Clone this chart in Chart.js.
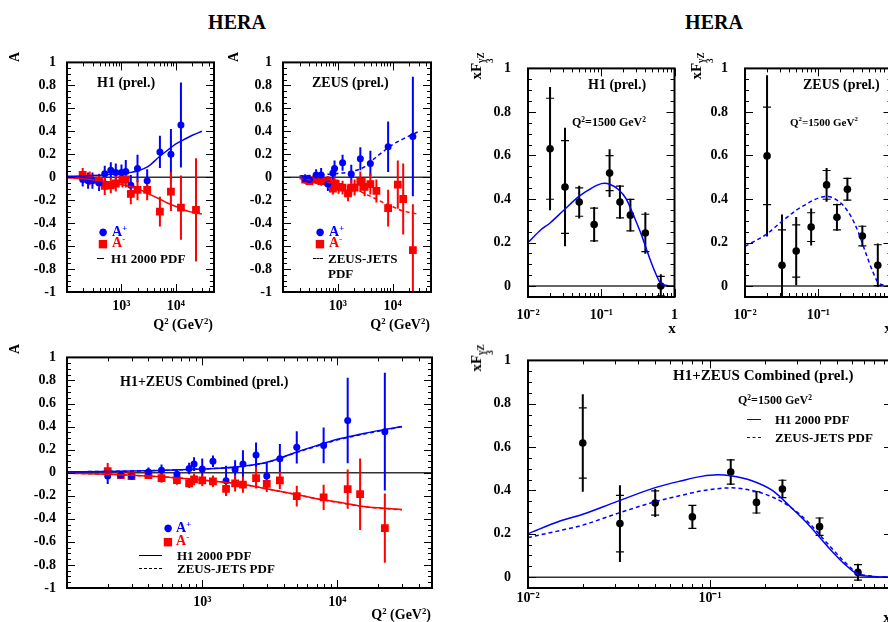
<!DOCTYPE html>
<html>
<head>
<meta charset="utf-8">
<script src="https://cdn.jsdelivr.net/npm/chart.js"></script>
<style>
  html, body { margin: 0; padding: 0; width: 888px; height: 622px; overflow: hidden; background: #fff; }
  body { position: relative; }
  canvas { position: absolute; }
  .t { position: absolute; white-space: nowrap; line-height: 1; font-family: 'Liberation Serif', 'Times New Roman', serif; font-weight: bold; color: #000; }
  .cy { transform: translateY(-50%); }
  .cc { transform: translate(-50%, -50%); }
  .rt { transform: translate(-100%, -50%); }
  .rot { transform: translate(-50%, -50%) rotate(-90deg); }
  .t sup { font-size: 0.62em; vertical-align: 0.6em; line-height: 0; }
  .ss { display: inline-flex; flex-direction: column; font-size: 0.62em; line-height: 0.95; vertical-align: -0.35em; }
  .mk { position: absolute; font-family: 'DejaVu Sans', sans-serif; line-height: 1; transform: translate(-50%, -50%); }
  .ln { position: absolute; height: 0; }
</style>
</head>
<body>
<canvas id="p1"></canvas>
<canvas id="p2"></canvas>
<canvas id="p3"></canvas>
<canvas id="p4"></canvas>
<canvas id="p5"></canvas>
<canvas id="p6"></canvas>

<!-- 标题 -->
<div class="t cc" style="left:237px;top:22px;font-size:20px">HERA</div>
<div class="t cc" style="left:714px;top:22px;font-size:20px">HERA</div>

<!-- H1 A -->
<div class="t rot" style="left:15px;top:57px;font-size:14px">A</div>
<div class="t cy" style="left:97px;top:83px;font-size:14px">H1 (prel.)</div>
<div class="mk" style="left:103px;top:232px;font-size:10px;color:#00f">●</div>
<div class="t cy" style="left:112px;top:232px;font-size:14px;color:#00f">A<sup>+</sup></div>
<div class="mk" style="left:103px;top:243px;font-size:11px;color:#f00">■</div>
<div class="t cy" style="left:112px;top:243px;font-size:14px;color:#f00">A<sup>-</sup></div>
<div class="ln" style="left:97px;top:258px;width:7px;border-top:1.5px solid #000"></div>
<div class="t cy" style="left:111px;top:258px;font-size:13px">H1 2000 PDF</div>
<div class="t rt" style="left:213px;top:325px;font-size:14px">Q<sup>2</sup> (GeV<sup>2</sup>)</div>

<!-- ZEUS A -->
<div class="t rot" style="left:234px;top:57px;font-size:14px">A</div>
<div class="t cy" style="left:312px;top:83px;font-size:14px">ZEUS (prel.)</div>
<div class="mk" style="left:320px;top:232px;font-size:10px;color:#00f">●</div>
<div class="t cy" style="left:329px;top:232px;font-size:14px;color:#00f">A<sup>+</sup></div>
<div class="mk" style="left:320px;top:243px;font-size:11px;color:#f00">■</div>
<div class="t cy" style="left:329px;top:243px;font-size:14px;color:#f00">A<sup>-</sup></div>
<div class="ln" style="left:313px;top:258px;width:10px;border-top:1.5px dashed #000"></div>
<div class="t cy" style="left:328px;top:258px;font-size:13px">ZEUS-JETS</div>
<div class="t cy" style="left:328px;top:273px;font-size:13px">PDF</div>
<div class="t rt" style="left:430px;top:325px;font-size:14px">Q<sup>2</sup> (GeV<sup>2</sup>)</div>

<!-- Combined A -->
<div class="t rot" style="left:15px;top:349px;font-size:14px">A</div>
<div class="t cy" style="left:120px;top:382px;font-size:14px">H1+ZEUS Combined (prel.)</div>
<div class="mk" style="left:168px;top:528px;font-size:10px;color:#00f">●</div>
<div class="t cy" style="left:176px;top:528px;font-size:14px;color:#00f">A<sup>+</sup></div>
<div class="mk" style="left:168px;top:541px;font-size:11px;color:#f00">■</div>
<div class="t cy" style="left:176px;top:541px;font-size:14px;color:#f00">A<sup>-</sup></div>
<div class="ln" style="left:139px;top:555px;width:23px;border-top:1.5px solid #000"></div>
<div class="t cy" style="left:177px;top:555px;font-size:13px">H1 2000 PDF</div>
<div class="ln" style="left:139px;top:568px;width:23px;border-top:1.5px dashed #000"></div>
<div class="t cy" style="left:177px;top:568px;font-size:13px">ZEUS-JETS PDF</div>
<div class="t rt" style="left:431px;top:615px;font-size:14px">Q<sup>2</sup> (GeV<sup>2</sup>)</div>

<!-- H1 xF3 -->
<div class="t rot" style="left:482px;top:66px;font-size:15px">xF<span class="ss"><span>γZ</span><span>3</span></span></div>
<div class="t cy" style="left:588px;top:85px;font-size:14px">H1 (prel.)</div>
<div class="t cy" style="left:572px;top:122px;font-size:12px">Q<sup>2</sup>=1500 GeV<sup>2</sup></div>
<div class="t cc" style="left:672px;top:328px;font-size:15px">x</div>

<!-- ZEUS xF3 -->
<div class="t rot" style="left:702px;top:66px;font-size:15px">xF<span class="ss"><span>γZ</span><span>3</span></span></div>
<div class="t cy" style="left:803px;top:85px;font-size:14px">ZEUS (prel.)</div>
<div class="t cy" style="left:790px;top:122px;font-size:11px">Q<sup>2</sup>=1500 GeV<sup>2</sup></div>
<div class="t cc" style="left:888px;top:328px;font-size:15px">x</div>

<!-- Combined xF3 -->
<div class="t rot" style="left:482px;top:358px;font-size:15px">xF<span class="ss"><span>γZ</span><span>3</span></span></div>
<div class="t cy" style="left:673px;top:375px;font-size:15px">H1+ZEUS Combined (prel.)</div>
<div class="t cy" style="left:738px;top:400px;font-size:12px">Q<sup>2</sup>=1500 GeV<sup>2</sup></div>
<div class="ln" style="left:747px;top:419px;width:14px;border-top:1.5px solid #00f"></div>
<div class="t cy" style="left:775px;top:419px;font-size:13px">H1 2000 PDF</div>
<div class="ln" style="left:747px;top:437px;width:14px;border-top:1.5px dashed #00f"></div>
<div class="t cy" style="left:775px;top:437px;font-size:13px">ZEUS-JETS PDF</div>
<div class="t cc" style="left:887px;top:617px;font-size:15px">x</div>

<script>
    // 数据: 电荷不对称 A± 随 Q2
    var h1Q2Plus = [194, 244, 293, 388, 493, 637, 787, 1000, 1200, 1485, 1970, 2965, 5080, 8090, 12360];
    var h1APlus = [-0.02, -0.03, -0.03, -0.05, 0.03, 0.06, 0.04, 0.04, 0.05, -0.07, 0.075, -0.03, 0.22, 0.20, 0.455];
    var h1APlusErr = [0.06, 0.07, 0.07, 0.07, 0.07, 0.07, 0.08, 0.07, 0.1, 0.09, 0.12, 0.1, 0.14, 0.22, 0.37];
    var h1Q2Minus = [194, 261, 388, 493, 637, 787, 1043, 1200, 1485, 1970, 2965, 5080, 8090, 12360, 23350];
    var h1AMinus = [0.02, -0.01, -0.03, -0.075, -0.07, -0.055, -0.02, -0.02, -0.145, -0.11, -0.11, -0.30, -0.125, -0.265, -0.285];
    var h1AMinusErr = [0.06, 0.06, 0.06, 0.08, 0.07, 0.07, 0.07, 0.07, 0.09, 0.09, 0.09, 0.13, 0.17, 0.28, 0.45];

    var zeusQ2Plus = [253, 303, 402, 496, 658, 813, 871, 1220, 1758, 2572, 3920, 8260, 23350];
    var zeusAPlus = [-0.014, -0.02, 0.02, 0.02, -0.06, 0.036, 0.075, 0.126, 0.028, 0.16, 0.12, 0.266, 0.355];
    var zeusAPlusErr = [0.04, 0.04, 0.05, 0.06, 0.06, 0.06, 0.07, 0.07, 0.08, 0.1, 0.11, 0.22, 0.52];
    var zeusQ2Minus = [253, 303, 402, 496, 658, 813, 871, 1031, 1220, 1530, 1758, 2023, 2572, 3083, 3920, 5050, 8260, 12400, 15550, 23350];
    var zeusAMinus = [-0.02, -0.035, -0.02, -0.035, -0.04, -0.10, -0.055, -0.085, -0.09, -0.14, -0.09, -0.09, -0.04, -0.085, -0.06, -0.12, -0.27, -0.064, -0.19, -0.635];
    var zeusAMinusErr = [0.03, 0.03, 0.04, 0.04, 0.05, 0.05, 0.06, 0.06, 0.06, 0.07, 0.07, 0.07, 0.09, 0.08, 0.09, 0.1, 0.16, 0.21, 0.31, 0.4];

    var combQ2Plus = [200, 250, 300, 400, 500, 650, 800, 870, 1000, 1200, 1500, 1750, 2000, 2500, 3000, 3750, 5000, 7900, 11900, 22400];
    var combAPlus = [-0.028, -0.02, -0.03, 0.005, 0.022, -0.014, 0.036, 0.075, 0.033, 0.10, -0.07, 0.028, 0.075, 0.153, -0.028, 0.12, 0.22, 0.236, 0.453, 0.356];
    var combAPlusErr = [0.07, 0.03, 0.03, 0.04, 0.05, 0.04, 0.05, 0.06, 0.09, 0.05, 0.13, 0.08, 0.12, 0.11, 0.12, 0.13, 0.14, 0.155, 0.37, 0.51];
    var combQ2Minus = [200, 250, 300, 400, 500, 650, 800, 870, 1000, 1200, 1500, 1750, 2000, 2500, 3000, 3750, 5000, 7900, 11900, 14700, 22400];
    var combAMinus = [0.014, -0.02, -0.03, -0.02, -0.047, -0.064, -0.092, -0.058, -0.067, -0.075, -0.14, -0.092, -0.103, -0.047, -0.097, -0.067, -0.203, -0.214, -0.142, -0.186, -0.48];
    var combAMinusErr = [0.07, 0.03, 0.03, 0.03, 0.04, 0.04, 0.04, 0.05, 0.05, 0.05, 0.06, 0.07, 0.07, 0.09, 0.07, 0.075, 0.09, 0.11, 0.17, 0.31, 0.3];

    // 理论曲线 (H1 2000 PDF / ZEUS-JETS PDF)
    var q2Theory = [100, 200, 300, 500, 700, 1000, 1500, 2000, 3000, 5000, 7000, 10000, 15000, 20000, 30000];
    var h1APlusTh = [0.008, 0.011, 0.014, 0.02, 0.026, 0.033, 0.042, 0.056, 0.09, 0.18, 0.235, 0.29, 0.335, 0.365, 0.40];
    var h1AMinusTh = [-0.004, -0.014, -0.022, -0.036, -0.048, -0.064, -0.084, -0.10, -0.14, -0.19, -0.225, -0.255, -0.29, -0.305, -0.32];
    var zeusAPlusTh = [0.008, 0.011, 0.014, 0.02, 0.026, 0.033, 0.042, 0.055, 0.088, 0.176, 0.23, 0.285, 0.33, 0.36, 0.398];
    var zeusAMinusTh = [-0.004, -0.014, -0.022, -0.036, -0.048, -0.064, -0.084, -0.10, -0.14, -0.19, -0.226, -0.257, -0.292, -0.307, -0.322];

    // 数据: xF3 随 x (Q2 = 1500 GeV2)
    var xBins = [0.02, 0.032, 0.05, 0.08, 0.13, 0.18, 0.25, 0.40, 0.65];
    var h1F3 = [0.631, 0.455, 0.386, 0.283, 0.519, 0.386, 0.326, 0.244, 0.0];
    var h1F3Stat = [0.232, 0.213, 0.065, 0.075, 0.08, 0.073, 0.072, 0.086, 0.045];
    var h1F3Tot = [0.283, 0.272, 0.075, 0.08, 0.11, 0.077, 0.075, 0.095, 0.055];
    var zeusF3 = [0.598, 0.096, 0.161, 0.271, 0.465, 0.316, 0.445, 0.230, 0.096];
    var zeusF3Stat = [0.224, 0.162, 0.12, 0.066, 0.066, 0.058, 0.05, 0.045, 0.094];
    var zeusF3Tot = [0.37, 0.233, 0.157, 0.085, 0.078, 0.062, 0.053, 0.048, 0.1];
    var combF3 = [0.619, 0.247, 0.342, 0.278, 0.485, 0.345, 0.407, 0.233, 0.022];
    var combF3Stat = [0.162, 0.13, 0.056, 0.053, 0.056, 0.049, 0.04, 0.04, 0.036];
    var combF3Tot = [0.225, 0.177, 0.065, 0.055, 0.06, 0.052, 0.043, 0.042, 0.04];

    var xTheory = [0.01, 0.015, 0.02, 0.03, 0.05, 0.07, 0.09, 0.11, 0.13, 0.17, 0.22, 0.28, 0.35, 0.45, 0.55, 0.65, 0.75, 0.85, 1.0];
    var h1F3Th = [0.20, 0.259, 0.29, 0.345, 0.413, 0.445, 0.465, 0.472, 0.468, 0.445, 0.40, 0.32, 0.24, 0.135, 0.06, 0.012, 0.004, 0.001, 0];
    var zeusF3Th = [0.183, 0.215, 0.24, 0.29, 0.348, 0.378, 0.398, 0.408, 0.412, 0.40, 0.37, 0.32, 0.25, 0.148, 0.07, 0.018, 0.006, 0.001, 0];

    // 坐标轴刻度
    var yTicksA = [-1, -0.8, -0.6, -0.4, -0.2, 0, 0.2, 0.4, 0.6, 0.8, 1];
    var yTicksF3 = [0, 0.2, 0.4, 0.6, 0.8, 1];
    var xTicksA = [1000, 10000];
    var xLabelsA = ['10³', '10⁴'];
    var xTicksF3 = [0.01, 0.1, 1];
    var xLabelsF3 = ['10⁻²', '10⁻¹', '1'];

    var FONT = "'Liberation Serif', 'Times New Roman', serif";
    var BLUE = '#0000ff', RED = '#ff0000';

    function pts(xs, ys) {
        return xs.map(function (x, i) { return { x: x, y: ys[i] }; });
    }

    // 框线、内刻度、零线和误差棒
    var framePlugin = {
        id: 'frame',
        beforeDatasetsDraw: function (chart) {
            var ctx = chart.ctx, a = chart.chartArea, xs = chart.scales.x, ys = chart.scales.y;
            ctx.save();
            ctx.beginPath();
            ctx.rect(a.left, a.top, a.right - a.left, a.bottom - a.top);
            ctx.clip();
            var y0 = ys.getPixelForValue(0);
            ctx.strokeStyle = '#333';
            ctx.lineWidth = 1.5;
            ctx.beginPath(); ctx.moveTo(a.left, y0); ctx.lineTo(a.right, y0); ctx.stroke();
            chart.data.datasets.forEach(function (ds) {
                if (!ds.errTot) return;
                ds.data.forEach(function (p, i) {
                    var px = xs.getPixelForValue(p.x);
                    var e = ds.errTot[i];
                    ctx.strokeStyle = ds.errColor;
                    ctx.lineWidth = 2;
                    ctx.beginPath();
                    ctx.moveTo(px, ys.getPixelForValue(p.y + e));
                    ctx.lineTo(px, ys.getPixelForValue(p.y - e));
                    ctx.stroke();
                    if (ds.errStat) {
                        var s = ds.errStat[i];
                        ctx.lineWidth = 1.2;
                        [p.y + s, p.y - s].forEach(function (v) {
                            var py = ys.getPixelForValue(v);
                            ctx.beginPath(); ctx.moveTo(px - 4, py); ctx.lineTo(px + 4, py); ctx.stroke();
                        });
                    }
                });
            });
            ctx.restore();
        },
        afterDraw: function (chart) {
            var ctx = chart.ctx, a = chart.chartArea, xs = chart.scales.x, ys = chart.scales.y;
            ctx.save();
            ctx.strokeStyle = '#000';
            ctx.lineWidth = 1;
            // y: 主刻度 0.2, 次刻度 0.05
            var k0 = Math.ceil(ys.min / 0.05 - 1e-6), k1 = Math.floor(ys.max / 0.05 + 1e-6);
            for (var k = k0; k <= k1; k++) {
                var v = k * 0.05, py = Math.round(ys.getPixelForValue(v)) + 0.5;
                var len = (k % 4 === 0) ? 8 : 4;
                ctx.beginPath();
                ctx.moveTo(a.left, py); ctx.lineTo(a.left + len, py);
                ctx.moveTo(a.right, py); ctx.lineTo(a.right - len, py);
                ctx.stroke();
            }
            // x: 对数刻度
            var d0 = Math.floor(Math.log10(xs.min)), d1 = Math.ceil(Math.log10(xs.max));
            for (var d = d0; d <= d1; d++) {
                for (var m = 1; m <= 9; m++) {
                    var xv = m * Math.pow(10, d);
                    if (xv < xs.min * 0.999 || xv > xs.max * 1.001) continue;
                    var px = Math.round(xs.getPixelForValue(xv)) + 0.5;
                    var l = (m === 1) ? 8 : 4;
                    ctx.beginPath();
                    ctx.moveTo(px, a.bottom); ctx.lineTo(px, a.bottom - l);
                    ctx.moveTo(px, a.top); ctx.lineTo(px, a.top + l);
                    ctx.stroke();
                }
            }
            ctx.lineWidth = 2;
            ctx.strokeRect(a.left, a.top, a.right - a.left, a.bottom - a.top);
            ctx.restore();
        }
    };

    function curve(xs, ys, color, dashed) {
        return {
            data: pts(xs, ys), showLine: true, borderColor: color, borderWidth: 1.5,
            borderDash: dashed ? [4, 3] : [], pointRadius: 0, cubicInterpolationMode: 'monotone'
        };
    }

    function points(xs, ys, color, style, radius, errTot, errStat) {
        return {
            data: pts(xs, ys), showLine: false, pointStyle: style, pointRadius: radius,
            backgroundColor: color, borderColor: color, pointBorderWidth: 0,
            errTot: errTot, errStat: errStat, errColor: color
        };
    }

    function panel(id, box, cfg) {
        var padL = 50, padR = 12, padT = 10, padB = 30;
        var cv = document.getElementById(id);
        var W = box.R - box.L + padL + padR, H = box.B - box.T + padT + padB;
        cv.width = W; cv.height = H;
        cv.style.left = (box.L - padL) + 'px';
        cv.style.top = (box.T - padT) + 'px';
        cv.style.width = W + 'px';
        cv.style.height = H + 'px';
        var tickFont = { family: FONT, size: 14, weight: 'bold' };
        return new Chart(cv.getContext('2d'), {
            type: 'scatter',
            data: { datasets: cfg.datasets },
            plugins: [framePlugin],
            options: {
                responsive: false,
                animation: false,
                devicePixelRatio: 1,
                layout: { padding: { left: 0, right: padR, top: padT, bottom: 0 } },
                plugins: { legend: { display: false }, tooltip: { enabled: false } },
                scales: {
                    x: {
                        type: 'logarithmic', min: cfg.xMin, max: cfg.xMax,
                        afterFit: function (s) { s.height = padB; },
                        afterBuildTicks: function (s) { s.ticks = cfg.xTicks.map(function (v) { return { value: v }; }); },
                        ticks: {
                            autoSkip: false, maxRotation: 0, padding: cfg.xPad, color: '#000', font: tickFont,
                            callback: function (v, i) { return cfg.xLabels[i]; }
                        },
                        grid: { display: false, drawTicks: false },
                        border: { display: false }
                    },
                    y: {
                        type: 'linear', min: cfg.yMin, max: cfg.yMax,
                        afterFit: function (s) { s.width = padL; },
                        afterBuildTicks: function (s) { s.ticks = cfg.yTicks.map(function (v) { return { value: v }; }); },
                        ticks: {
                            autoSkip: false, padding: cfg.yPad, color: '#000', font: tickFont,
                            callback: function (v) { return String(Math.round(v * 10) / 10); }
                        },
                        grid: { display: false, drawTicks: false },
                        border: { display: false }
                    }
                }
            }
        });
    }

    var aCfg = { xMin: 100, xMax: 50000, yMin: -1, yMax: 1, xTicks: xTicksA, xLabels: xLabelsA, yTicks: yTicksA, xPad: 6, yPad: 11 };
    var fCfg = { xMin: 0.01, xMax: 1, yMin: -0.05, yMax: 1, xTicks: xTicksF3, xLabels: xLabelsF3, yTicks: yTicksF3, yPad: 17 };

    panel('p1', { L: 67, R: 214, T: 53, B: 292 }, Object.assign({}, aCfg, {
        datasets: [
            curve(q2Theory, h1APlusTh, BLUE, false),
            curve(q2Theory, h1AMinusTh, RED, false),
            points(h1Q2Plus, h1APlus, BLUE, 'circle', 3.5, h1APlusErr),
            points(h1Q2Minus, h1AMinus, RED, 'rect', 5.5, h1AMinusErr)
        ]
    }));

    panel('p2', { L: 283, R: 431, T: 53, B: 292 }, Object.assign({}, aCfg, {
        datasets: [
            curve(q2Theory.slice(1), zeusAPlusTh.slice(1), BLUE, true),
            curve(q2Theory.slice(1), zeusAMinusTh.slice(1), RED, true),
            points(zeusQ2Plus, zeusAPlus, BLUE, 'circle', 3.5, zeusAPlusErr),
            points(zeusQ2Minus, zeusAMinus, RED, 'rect', 5.5, zeusAMinusErr)
        ]
    }));

    panel('p3', { L: 67, R: 432, T: 348, B: 588 }, Object.assign({}, aCfg, {
        datasets: [
            curve(q2Theory, h1APlusTh, BLUE, false),
            curve(q2Theory, zeusAPlusTh, BLUE, true),
            curve(q2Theory, h1AMinusTh, RED, false),
            curve(q2Theory, zeusAMinusTh, RED, true),
            points(combQ2Plus, combAPlus, BLUE, 'circle', 3.5, combAPlusErr),
            points(combQ2Minus, combAMinus, RED, 'rect', 5.5, combAMinusErr)
        ]
    }));

    panel('p4', { L: 528, R: 676, T: 53, B: 297 }, Object.assign({}, fCfg, {
        xPad: 10,
        datasets: [
            curve(xTheory, h1F3Th, BLUE, false),
            points(xBins, h1F3, '#000', 'circle', 3.8, h1F3Tot, h1F3Stat)
        ]
    }));

    panel('p5', { L: 745, R: 893, T: 53, B: 297 }, Object.assign({}, fCfg, {
        xPad: 10,
        datasets: [
            curve(xTheory, zeusF3Th, BLUE, true),
            points(xBins, zeusF3, '#000', 'circle', 3.8, zeusF3Tot, zeusF3Stat)
        ]
    }));

    panel('p6', { L: 528, R: 892, T: 345, B: 588 }, Object.assign({}, fCfg, {
        xPad: 2,
        datasets: [
            curve(xTheory, h1F3Th, BLUE, false),
            curve(xTheory, zeusF3Th, BLUE, true),
            points(xBins, combF3, '#000', 'circle', 3.8, combF3Tot, combF3Stat)
        ]
    }));
</script>
</body>
</html>
